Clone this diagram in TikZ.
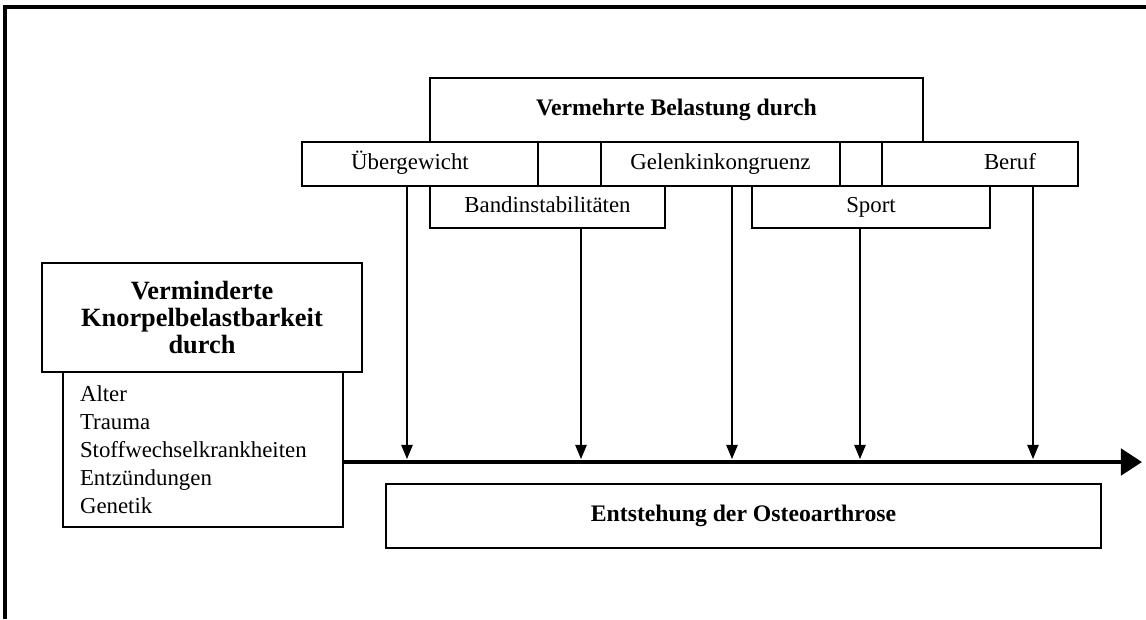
\documentclass[tikz,border=0pt]{standalone}
\usepackage{fontspec}
\setmainfont{Liberation Serif}
\usetikzlibrary{arrows.meta}
\begin{document}
\begin{tikzpicture}[x=0.02cm,y=-0.02cm,
  kasten/.style 2 args={draw,line width=0.8pt,inner sep=0pt,minimum width=#1,minimum height=#2},
  titel/.style={font=\bfseries\fontsize{13.5}{16}\selectfont},
  eintrag/.style={font=\fontsize{13}{16}\selectfont,text height=9pt,text depth=3pt},
  pfeil/.style={line width=0.6pt,-{Triangle[length=8pt,width=6.5pt]}}]
\useasboundingbox (0,0) rectangle (1146,619);
% Rahmen
\draw[line width=2.1pt] (5,619) -- (5,7) -- (1146,7);
% Belastung
\node[kasten={9.86cm}{1.28cm},titel] (belast) at (676.5,110) {Vermehrte Belastung durch};
\node[kasten={4.72cm}{0.88cm},label={[eintrag,xshift=-0.2cm]center:Übergewicht}] (ueber) at (420,164) {};
\node[kasten={1.26cm}{0.88cm}] (leer1) at (569.5,164) {};
\node[kasten={4.78cm}{0.88cm},eintrag] (gelenk) at (720.5,164) {Gelenkinkongruenz};
\node[kasten={0.84cm}{0.88cm}] (leer2) at (861,164) {};
\node[kasten={3.92cm}{0.88cm},label={[eintrag,xshift=0.6cm]center:Beruf}] (beruf) at (980,164) {};
\node[kasten={4.7cm}{0.84cm},eintrag] (band) at (547.5,207) {Bandinstabilitäten};
\node[kasten={4.76cm}{0.84cm},eintrag] (sport) at (871,207) {Sport};
% Knorpel
\node[kasten={6.4cm}{2.18cm},font=\bfseries\fontsize{15}{15.5}\selectfont,align=center] (vermind) at (202,317.5) {Verminderte\\Knorpelbelastbarkeit\\durch};
\node[kasten={5.6cm}{3.1cm},inner xsep=0.34cm,text width=4.92cm,align=left,font=\fontsize{13}{15.9}\selectfont] (liste) at (203,449.5) {Alter\\Trauma\\Stoffwechselkrankheiten\\Entzündungen\\Genetik};
% Achse
\node[kasten={14.3cm}{1.28cm},titel] (entst) at (743.5,516) {Entstehung der Osteoarthrose};
\coordinate (aende) at (1142,462);
\draw[line width=2.3pt,-{Triangle[length=12pt,width=15pt]}] (liste.east |- aende) -- (aende);
\coordinate (p1) at (407,459);
\coordinate (p2) at (581,459);
\coordinate (p3) at (732,459);
\coordinate (p4) at (860,459);
\coordinate (p5) at (1033,459);
\draw[pfeil] (ueber.south -| p1) -- (p1);
\draw[pfeil] (band.south -| p2) -- (p2);
\draw[pfeil] (gelenk.south -| p3) -- (p3);
\draw[pfeil] (sport.south -| p4) -- (p4);
\draw[pfeil] (beruf.south -| p5) -- (p5);
\end{tikzpicture}
\end{document}
